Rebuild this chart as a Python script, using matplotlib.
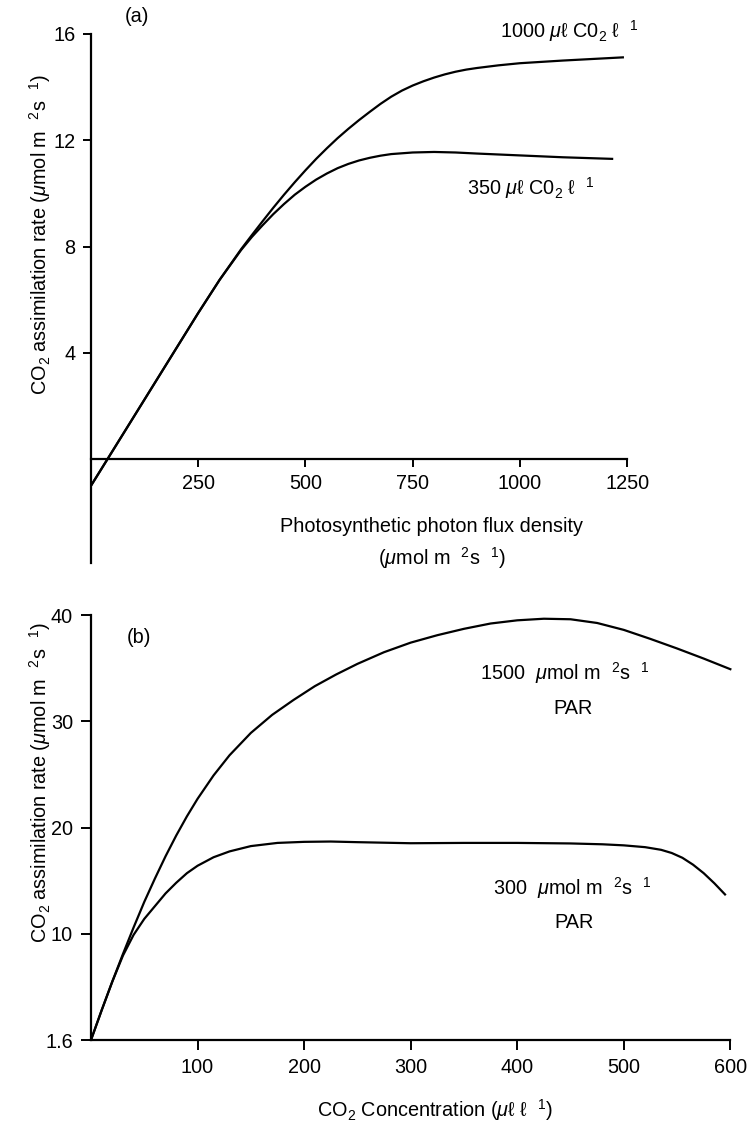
import numpy as np
import matplotlib
matplotlib.use('Agg')
import matplotlib.pyplot as plt

plt.rcParams['font.family'] = ['Liberation Sans', 'DejaVu Sans']
plt.rcParams['mathtext.fontset'] = 'custom'
plt.rcParams['mathtext.rm'] = 'Liberation Sans'
plt.rcParams['mathtext.it'] = 'Liberation Sans:italic'
plt.rcParams['mathtext.bf'] = 'Liberation Sans:bold'

# (a) light response curves
ppfd_1000 = [0, 40, 100, 150, 200, 250, 300, 350, 375, 400, 425, 450, 475, 500,
             525, 550, 575, 600, 625, 650, 675, 700, 725, 750, 775, 800, 825,
             850, 875, 900, 950, 1000, 1100, 1240]
rate_1000 = [-1.0, 0.04, 1.6, 2.9, 4.2, 5.5, 6.75, 7.9, 8.43, 8.95, 9.46, 9.95,
             10.42, 10.87, 11.3, 11.7, 12.08, 12.43, 12.76, 13.07, 13.37, 13.64,
             13.87, 14.06, 14.22, 14.36, 14.48, 14.58, 14.66, 14.72, 14.82, 14.9,
             15.0, 15.12]
ppfd_350 = [0, 40, 100, 150, 200, 250, 300, 350, 375, 400, 425, 450, 475, 500,
            525, 550, 575, 600, 625, 650, 675, 700, 750, 800, 850, 900, 1000,
            1100, 1215]
rate_350 = [-1.0, 0.04, 1.6, 2.9, 4.2, 5.5, 6.75, 7.87, 8.36, 8.8, 9.22, 9.6,
            9.95, 10.25, 10.52, 10.75, 10.95, 11.11, 11.24, 11.34, 11.42, 11.48,
            11.54, 11.56, 11.54, 11.5, 11.43, 11.36, 11.3]
a_xticks = [250, 500, 750, 1000, 1250]
a_yticks = [4, 8, 12, 16]

# (b) CO2 response curves
co2_1500 = [0, 10, 20, 30, 40, 50, 60, 70, 80, 90, 100, 115, 130, 150, 170, 190,
            210, 230, 250, 275, 300, 325, 350, 375, 400, 425, 450, 475, 500, 525,
            550, 575, 600]
rate_1500 = [0, 2.8, 5.5, 8.1, 10.6, 13.0, 15.2, 17.3, 19.25, 21.05, 22.7, 24.9,
             26.8, 28.9, 30.6, 32.0, 33.3, 34.4, 35.4, 36.5, 37.4, 38.1, 38.7,
             39.2, 39.5, 39.65, 39.6, 39.25, 38.6, 37.75, 36.85, 35.9, 34.9]
co2_300 = [0, 10, 20, 30, 40, 50, 60, 70, 80, 90, 100, 115, 130, 150, 175, 200,
           225, 250, 300, 350, 400, 450, 480, 500, 520, 535, 545, 555, 565, 575,
           585, 595]
rate_300 = [0, 2.8, 5.5, 7.95, 9.9, 11.4, 12.6, 13.8, 14.8, 15.7, 16.4, 17.2,
            17.75, 18.25, 18.55, 18.65, 18.68, 18.62, 18.52, 18.55, 18.55, 18.5,
            18.42, 18.32, 18.15, 17.9, 17.6, 17.15, 16.5, 15.7, 14.75, 13.7]
b_xticks = [100, 200, 300, 400, 500, 600]
b_yticks = [0, 10, 20, 30, 40]
b_yticklabels = ['1.6', '10', '20', '30', '40']

W, H = 747, 1126
fig = plt.figure(figsize=(W / 100, H / 100), dpi=100)

def frac(x0, y0, x1, y1):
    # pixel box (left, top, right, bottom) -> figure fraction
    return [x0 / W, 1 - y1 / H, (x1 - x0) / W, (y1 - y0) / H]

lw = 1.6
fs = 14.3
ylab = 'CO$_2$ assimilation rate ($\\mu$mol m  $^2$s  $^1$)'

# ---- panel (a)
ax1 = fig.add_axes(frac(91, 20.7, 640, 565.4))
ax1.plot(ppfd_1000, rate_1000, color='black', lw=lw)
ax1.plot(ppfd_350, rate_350, color='black', lw=lw)
ax1.set_xlim(0, 1280)
ax1.set_ylim(-4, 16.5)
ax1.spines['top'].set_visible(False)
ax1.spines['right'].set_visible(False)
ax1.spines['bottom'].set_position(('data', 0))
ax1.spines['bottom'].set_bounds(0, 1250)
ax1.spines['left'].set_bounds(-3.9, 16)
for s in ['bottom', 'left']:
    ax1.spines[s].set_linewidth(1.6)
ax1.set_xticks(a_xticks)
ax1.set_yticks(a_yticks)
ax1.tick_params(direction='out', length=6, width=1.4, labelsize=fs, pad=5)
ax1.text(954, 16.1, '1000 $\\mu$ℓ C0$_2$ ℓ  $^1$', fontsize=fs, ha='left', va='center')
ax1.text(877, 10.2, '350 $\\mu$ℓ C0$_2$ ℓ  $^1$', fontsize=fs, ha='left', va='center')

fig.text(137 / W, 1 - 17 / H, '(a)', fontsize=fs, ha='center', va='center')
fig.text(40 / W, 1 - 235 / H, ylab, fontsize=fs, rotation=90, ha='center', va='center')
fig.text(432 / W, 1 - 527 / H, 'Photosynthetic photon flux density',
         fontsize=fs, ha='center', va='center')
fig.text(442 / W, 1 - 558 / H, '($\\mu$mol m  $^2$s  $^1$)',
         fontsize=fs, ha='center', va='center')

# ---- panel (b)
ax2 = fig.add_axes(frac(91, 609.7, 741, 1040))
ax2.plot(co2_1500, rate_1500, color='black', lw=lw)
ax2.plot(co2_300, rate_300, color='black', lw=lw)
ax2.set_xlim(0, 610)
ax2.set_ylim(0, 40.5)
ax2.spines['top'].set_visible(False)
ax2.spines['right'].set_visible(False)
ax2.spines['bottom'].set_bounds(0, 600)
ax2.spines['left'].set_bounds(0, 40)
for s in ['bottom', 'left']:
    ax2.spines[s].set_linewidth(1.6)
ax2.set_xticks(b_xticks)
ax2.set_yticks(b_yticks)
ax2.set_yticklabels(b_yticklabels)
ax2.tick_params(direction='out', length=7, width=1.4, labelsize=fs, pad=6)
ax2.text(45, 37.9, '(b)', fontsize=fs, ha='center', va='center')
ax2.text(365, 34.5, '1500  $\\mu$mol m  $^2$s  $^1$', fontsize=fs, ha='left', va='center')
ax2.text(452, 31.2, 'PAR', fontsize=fs, ha='center', va='center')
ax2.text(377, 14.3, '300  $\\mu$mol m  $^2$s  $^1$', fontsize=fs, ha='left', va='center')
ax2.text(453, 11.1, 'PAR', fontsize=fs, ha='center', va='center')

fig.text(40 / W, 1 - 783 / H, ylab, fontsize=fs, rotation=90, ha='center', va='center')
fig.text(435 / W, 1 - 1110 / H, 'CO$_2$ Concentration ($\\mu$ℓ ℓ  $^1$)',
         fontsize=fs, ha='center', va='center')

fig.savefig('out.png', dpi=100)
